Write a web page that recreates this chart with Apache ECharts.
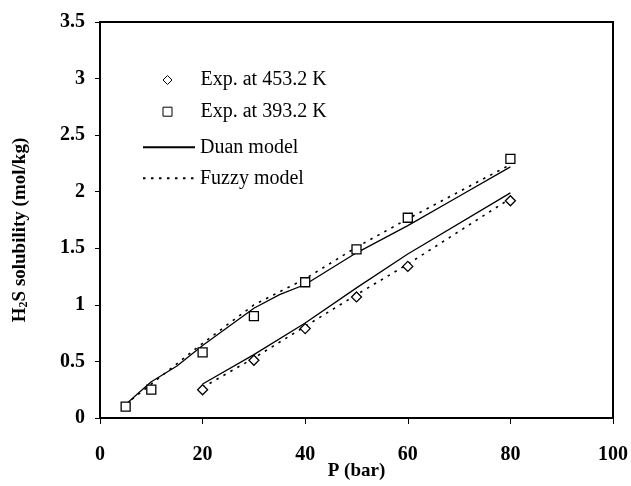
<!DOCTYPE html>
<html>
<head>
<meta charset="utf-8">
<script src="https://cdn.jsdelivr.net/npm/echarts@6/dist/echarts.min.js"></script>
<style>
  html, body { margin: 0; padding: 0; background: #fff; }
  #chart { width: 631px; height: 486px; }
</style>
</head>
<body>
<div id="chart"></div>
<script>
// experimental points
var p453 = [20, 30, 40, 50, 60, 80];
var exp453 = [0.25, 0.51, 0.79, 1.07, 1.34, 1.92];
var p393 = [5, 10, 20, 30, 40, 50, 60, 80];
var exp393 = [0.10, 0.25, 0.58, 0.90, 1.20, 1.49, 1.77, 2.29];

// Duan model curves
var duanP393 = [5, 7.5, 10, 15, 20, 30, 35, 40, 50, 60, 70, 80];
var duan393 = [0.12, 0.22, 0.32, 0.46, 0.64, 0.97, 1.09, 1.18, 1.46, 1.70, 1.96, 2.22];
var duanP453 = [20, 30, 40, 50, 60, 80];
var duan453 = [0.30, 0.56, 0.84, 1.15, 1.45, 1.99];

// Fuzzy model curves
var fuzzyP393 = [5, 10, 20, 30, 40, 50, 60, 80];
var fuzzy393 = [0.12, 0.30, 0.66, 1.00, 1.23, 1.51, 1.76, 2.24];
var fuzzyP453 = [20, 30, 40, 50, 60, 80];
var fuzzy453 = [0.27, 0.53, 0.81, 1.09, 1.36, 1.94];

var xTicks = [0, 20, 40, 60, 80, 100];

function pairs(xs, ys) {
    return xs.map(function (x, i) { return [x, ys[i]]; });
}

var font = 'Liberation Serif';
var chart = echarts.init(document.getElementById('chart'));

var legendBase = {
    left: 142,
    padding: 0,
    itemWidth: 52,
    itemHeight: 10,
    selectedMode: false,
    textStyle: { fontFamily: font, fontSize: 20, color: '#000' }
};
// scatter entries: small symbol centred under the line icons, text pushed right
var markLegend = {
    left: 162.5,
    itemWidth: 9,
    itemHeight: 9,
    itemStyle: { borderWidth: 1 },
    textStyle: { fontFamily: font, fontSize: 20, color: '#000', padding: [0, 0, 0, 23.5] }
};
// line entries: hide the circle that line legends add
var lineLegend = {
    itemStyle: { opacity: 0, borderWidth: 0 }
};

option = {
    animation: false,
    backgroundColor: '#fff',
    grid: {
        left: 100, right: 18, top: 22, bottom: 68,
        outerBoundsMode: 'none',
        show: true, borderColor: '#000', borderWidth: 2
    },
    legend: [
        Object.assign({}, legendBase, markLegend, { top: 70, data: ['Exp. at 453.2 K'] }),
        Object.assign({}, legendBase, markLegend, { top: 101.7, data: ['Exp. at 393.2 K'] }),
        Object.assign({}, legendBase, lineLegend, { top: 137.3, data: ['Duan model'] }),
        Object.assign({}, legendBase, lineLegend, { top: 168.3, data: ['Fuzzy model'] })
    ],
    xAxis: {
        type: 'value',
        min: xTicks[0], max: xTicks[xTicks.length - 1], interval: 20,
        name: 'P (bar)',
        nameLocation: 'middle',
        nameGap: 44,
        nameMoveOverlap: false,
        nameTextStyle: { fontFamily: font, fontSize: 19, fontWeight: 'bold', color: '#000' },
        axisLine: { lineStyle: { color: '#000', width: 2 } },
        axisTick: { length: 6, lineStyle: { color: '#000', width: 1 } },
        axisLabel: { margin: 27, fontFamily: font, fontSize: 20, fontWeight: 'bold', color: '#000' },
        splitLine: { show: false }
    },
    yAxis: {
        type: 'value',
        min: 0, max: 3.5, interval: 0.5,
        name: '{a|H}{s|2}{a|S solubility (mol/kg)}',
        nameLocation: 'middle',
        nameGap: 70,
        nameMoveOverlap: false,
        nameTextStyle: {
            fontFamily: font, fontWeight: 'bold', color: '#000',
            padding: [0, 20, 0, 0],
            rich: {
                a: { fontFamily: font, fontSize: 19, fontWeight: 'bold', color: '#000', lineHeight: 22, verticalAlign: 'bottom' },
                s: { fontFamily: font, fontSize: 12, fontWeight: 'bold', color: '#000', lineHeight: 12, verticalAlign: 'bottom' }
            }
        },
        axisLine: { lineStyle: { color: '#000', width: 2 } },
        axisTick: { length: 5, lineStyle: { color: '#000', width: 1 } },
        axisLabel: { margin: 15, fontFamily: font, fontSize: 20, fontWeight: 'bold', color: '#000' },
        splitLine: { show: false }
    },
    series: [
        {
            name: 'Duan model', type: 'line', symbol: 'none', showSymbol: false,
            data: pairs(duanP393, duan393),
            lineStyle: { color: '#000', width: 1.3 }, itemStyle: { color: '#000' }, z: 2
        },
        {
            name: 'Duan model', type: 'line', symbol: 'none', showSymbol: false,
            data: pairs(duanP453, duan453),
            lineStyle: { color: '#000', width: 1.3 }, itemStyle: { color: '#000' }, z: 2
        },
        {
            name: 'Fuzzy model', type: 'line', symbol: 'none', showSymbol: false,
            data: pairs(fuzzyP393, fuzzy393),
            lineStyle: { color: '#000', width: 1.6, type: [2.5, 5.5] }, itemStyle: { color: '#000' }, z: 2
        },
        {
            name: 'Fuzzy model', type: 'line', symbol: 'none', showSymbol: false,
            data: pairs(fuzzyP453, fuzzy453),
            lineStyle: { color: '#000', width: 1.6, type: [2.5, 5.5] }, itemStyle: { color: '#000' }, z: 2
        },
        {
            name: 'Exp. at 453.2 K', type: 'scatter', symbol: 'diamond', symbolSize: 10,
            data: pairs(p453, exp453),
            itemStyle: { color: '#fff', borderColor: '#000', borderWidth: 1.3, opacity: 1 }, z: 3
        },
        {
            name: 'Exp. at 393.2 K', type: 'scatter', symbol: 'rect', symbolSize: 9,
            data: pairs(p393, exp393),
            itemStyle: { color: '#fff', borderColor: '#000', borderWidth: 1.3, opacity: 1 }, z: 3
        }
    ]
};

chart.setOption(option);
</script>
</body>
</html>
